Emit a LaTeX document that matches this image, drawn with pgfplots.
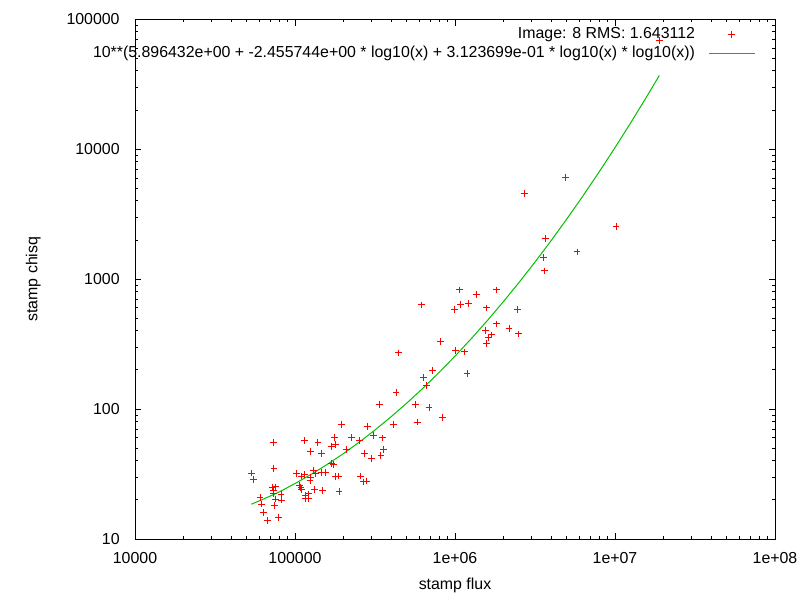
\documentclass[border=0pt]{standalone}
\usepackage{fontspec}
\setmainfont{Liberation Sans}
\usepackage{pgfplots}
\pgfplotsset{compat=1.18}
\definecolor{gpgreen}{RGB}{0,192,0}
\newcommand{\gpfont}{\fontsize{7.95}{9}\selectfont}
\pgfplotsset{
  ptlegend/.style={legend image code/.code={\draw[##1, mark repeat=2, mark phase=2] plot coordinates {(0pt,0pt) (11.5pt,0pt) (23pt,0pt)};}},
  lnlegend/.style={legend image code/.code={\draw[##1] (0pt,0pt) -- (23pt,0pt);}},
}
\begin{document}
\begin{tikzpicture}
\begin{axis}[name=ax, scale only axis, width=320pt, height=259.85pt,
  xmode=log, ymode=log, xmin=1e4, xmax=1e8, ymin=10, ymax=1e5,
  axis line style={line width=0.5pt, black},
  tick style={line width=0.5pt, black},
  tick align=inside, tick pos=both,
  xticklabel pos=left, yticklabel pos=left,
  major tick length=3.25pt, minor tick length=1.6pt,
  xtick={1e4,1e5,1e6,1e7,1e8},
  xticklabels={10000,100000,1e+06,1e+07,1e+08},
  ytick={10,100,1000,10000,100000},
  yticklabels={10,100,1000,10000,100000},
  minor xtick={2e4,3e4,4e4,5e4,6e4,7e4,8e4,9e4,2e5,3e5,4e5,5e5,6e5,7e5,8e5,9e5,2e6,3e6,4e6,5e6,6e6,7e6,8e6,9e6,2e7,3e7,4e7,5e7,6e7,7e7,8e7,9e7},
  minor ytick={20,30,40,50,60,70,80,90,200,300,400,500,600,700,800,900,2000,3000,4000,5000,6000,7000,8000,9000,20000,30000,40000,50000,60000,70000,80000,90000},
  tick label style={font=\gpfont},
  xticklabel style={inner sep=0pt, anchor=north, yshift=-6.3pt},
  yticklabel style={inner sep=0pt, anchor=east, xshift=-7.5pt},
  label style={font=\gpfont},
  xlabel={stamp flux}, ylabel={stamp chisq},
  xlabel style={at={(axis description cs:0.5,-0.0895)}, anchor=center},
  ylabel style={at={(axis description cs:-0.159,0.5)}, anchor=center},
  legend style={draw=none, fill=none, at={(1,1)}, anchor=north east,
    xshift=-10pt, yshift=-3pt, inner sep=0pt, outer sep=0pt,
    row sep=0pt, column sep=6.5pt, font=\gpfont,
    nodes={inner sep=0pt, text height=6.5pt, text depth=3pt}},
  legend plot pos=right, legend cell align=right,
]
\addplot[only marks, mark=+, red, mark size=1.7pt, line width=0.5pt, ptlegend]
  table {
x y
4.89e6 6087
2.71e6 4585
1.015e7 2554
3.67e6 2065
5.79e6 1620
3.56e6 1474
3.615e6 1157
1.892e7 69040
1.062e6 825.8
1.809e6 825.8
1.357e6 765.2
1.079e6 642.1
1.211e6 652.5
9.90e5 586.6
1.567e6 600.3
2.451e6 586.6
1.809e6 451.9
1.545e6 404.9
2.175e6 418.8
2.486e6 378.5
1.686e6 371.9
1.613e6 357.0
1.567e6 321.0
8.12e5 332.6
1.003e6 283.6
1.141e6 275.2
1.189e6 189.0
6.157e5 633.2
4.422e5 270.4
7.213e5 197.5
6.34e5 175.7
6.617e5 152.5
4.278e5 134.7
3.365e5 108.9
5.65e5 108.9
6.88e5 102.5
8.33e5 85.85
5.814e5 79.56
4.109e5 76.52
1.953e5 76.52
2.827e5 73.85
3.086e5 62.31
3.512e5 59.92
2.248e5 60.13
1.76e5 60.13
1.147e5 57.33
1.392e5 55.53
7.307e4 55.53
1.686e5 51.70
1.786e5 53.38
2.537e5 57.02
1.245e5 47.42
1.46e5 45.68
2.089e5 49.12
2.711e5 45.68
3.584e5 49.03
3.447e5 44.10
3.007e5 41.88
1.686e5 38.32
1.748e5 37.45
7.392e4 35.08
5.333e4 32.22
5.488e4 28.82
1.022e5 31.76
1.147e5 31.37
1.101e5 30.55
1.305e5 33.50
1.347e5 31.93
1.454e5 32.62
1.556e5 32.62
1.253e5 30.01
1.241e5 28.11
1.797e5 30.17
1.876e5 30.55
2.574e5 30.55
2.688e5 27.47
2.79e5 27.96
1.07e5 25.96
1.09e5 25.00
1.103e5 24.05
1.32e5 24.13
1.481e5 23.54
1.884e5 23.13
1.168e5 21.70
1.22e5 22.21
1.167e5 20.50
1.22e5 20.43
7.254e4 24.83
7.531e4 25.14
7.36e4 23.42
8.175e4 22.09
7.36e4 22.21
6.043e4 20.94
7.575e4 20.32
8.21e4 19.96
6.193e4 18.60
7.423e4 18.05
6.337e4 15.94
7.909e4 14.69
6.751e4 13.93
};
\addlegendentry{Image: 8 RMS: 1.643112}
\addplot[gpgreen, line width=0.5pt, no marks, lnlegend]
  table {
x y
53333 18.53
63096 20.22
79433 22.98
100000 26.73
125893 31.40
158489 37.41
199526 45.22
251189 55.48
316228 69.03
398107 87.16
501187 111.6
630957 145.0
794328 191.1
1000000 255.5
1258925 346.5
1584893 476.8
1995262 665.7
2511886 942.7
3162278 1354
3981072 1974
5011872 2919
6309573 4379
7943282 6662
10000000 10288
12589254 16116
15848932 25601
18923436 36939
};
\addlegendentry{10**(5.896432e+00 + -2.455744e+00 * log10(x) + 3.123699e-01 * log10(x) * log10(x))}
\end{axis}
\pgfresetboundingbox
\path[use as bounding box] (ax.south west) ++(-67.5pt,-30.5pt) rectangle ([xshift=12.5pt,yshift=9.65pt]ax.north east);
\end{tikzpicture}
\end{document}
